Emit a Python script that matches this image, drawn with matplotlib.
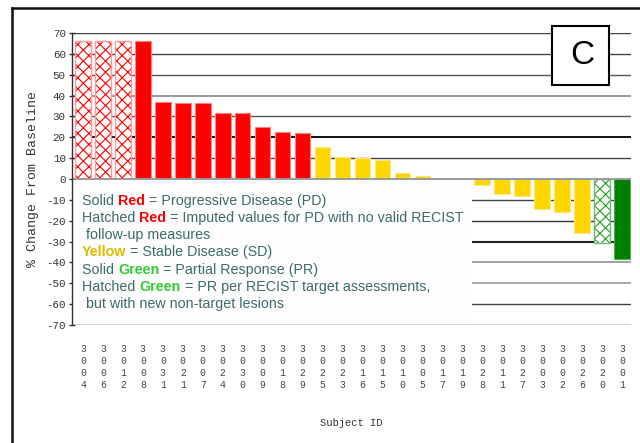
import matplotlib
matplotlib.use("Agg")
import matplotlib.pyplot as plt
from matplotlib.patches import Rectangle
from matplotlib.lines import Line2D

subject_ids = ["3004", "3006", "3012", "3008", "3031", "3021", "3007", "3024",
               "3030", "3009", "3018", "3029", "3025", "3023", "3016", "3015",
               "3010", "3005", "3017", "3019", "3028", "3011", "3027", "3003",
               "3002", "3026", "3020", "3001"]
pct_change = [66, 66, 66, 66, 37, 36.5, 36.5, 31.5, 31.5, 25, 22.5, 22,
              15.3, 10.7, 10.2, 9.1, 2.7, 1.6, -1, -2, -2.7, -7.4, -8, -14.2,
              -16, -26, -30.8, -38.5]
response = ["PD_imp"] * 3 + ["PD"] * 9 + ["SD"] * 14 + ["PR_new", "PR"]
yticks = [70, 60, 50, 40, 30, 20, 10, 0, -10, -20, -30, -40, -50, -60, -70]

fill = {"PD_imp": "white", "PD": "#ff0000", "SD": "#ffd700",
        "PR_new": "white", "PR": "#008000"}
hatchc = {"PD_imp": "#ff0000", "PR_new": "#22a022"}
edge = {"PD_imp": "#ff9a9a", "PD": "#ff8080", "SD": "#ffe680",
        "PR_new": "#66bb66", "PR": "#55aa55"}

plt.rcParams["hatch.linewidth"] = 0.8
fig = plt.figure(figsize=(6.4, 4.43), dpi=100)
ax = fig.add_axes([72 / 640, 1 - 325 / 443, (631 - 72) / 640, (325 - 33) / 443])

x = list(range(len(subject_ids)))
for i, (v, r) in enumerate(zip(pct_change, response)):
    if r in hatchc:
        ax.bar(i, v, width=0.78, color="white", edgecolor=hatchc[r],
               hatch="xxx", linewidth=0, zorder=3)
        ax.bar(i, v, width=0.78, color="none", edgecolor=edge[r],
               linewidth=1.0, zorder=3)
    else:
        ax.bar(i, v, width=0.78, color=fill[r], edgecolor=edge[r],
               linewidth=0.8, zorder=3)

# gridlines (styles mimic the reference rendering)
gstyle = {70: ("#444444", 1.0), 60: ("#444444", 1.0), 50: ("#555555", 1.0),
          40: ("#9a9a9a", 1.4), 30: ("#555555", 1.0), 20: ("#111111", 1.4),
          10: ("#444444", 1.0), 0: ("#9a9a9a", 1.4), -10: ("#444444", 1.0),
          -20: ("#333333", 1.0), -30: ("#222222", 1.5), -40: ("#9a9a9a", 1.3),
          -50: ("#9a9a9a", 1.2), -60: ("#444444", 1.0), -70: ("#222222", 1.0)}
for yv in yticks:
    c, lw = gstyle[yv]
    ax.axhline(yv, color=c, lw=lw, zorder=6 if yv == 0 else 1)

ax.set_xlim(-0.55, 27.45)
ax.set_ylim(-70, 70)
for s in ["top", "right", "bottom"]:
    ax.spines[s].set_visible(False)
ax.spines["left"].set_color("#333333")
ax.spines["left"].set_linewidth(1.0)
ax.spines["left"].set_zorder(6)

mono = "Liberation Mono"
ax.set_yticks(yticks)
ax.set_yticklabels([str(v) for v in yticks], family=mono, fontsize=7.8,
                   color="#333333")
ax.tick_params(axis="y", direction="inout", length=5, width=1, color="#333333", pad=2)
ax.set_xticks(x)
ax.set_xticklabels(["\n".join(s) for s in subject_ids], family=mono,
                   fontsize=7, color="#444444", linespacing=1.25)
ax.tick_params(axis="x", length=0, pad=14)
ax.set_ylabel("% Change From Baseline", family=mono, fontsize=9.5,
              color="#333333", labelpad=5)
ax.set_xlabel("Subject ID", family=mono, fontsize=7.6, color="#333333",
              labelpad=20)

# legend box covering the lower-left area
ax.add_patch(Rectangle((-0.5, -69.3), 20.0, 68.8, facecolor="#fdfdfd",
                       edgecolor="none", zorder=5))

teal = "#3d6b6b"
red = "#ff0000"
gold = "#e3bb00"
green = "#33cc33"
lines = [
    [("Solid ", teal, "normal"), ("Red", red, "bold"), (" = Progressive Disease (PD)", teal, "normal")],
    [("Hatched ", teal, "normal"), ("Red", red, "bold"), (" = Imputed values for PD with no valid RECIST", teal, "normal")],
    [(" follow-up measures", teal, "normal")],
    [("Yellow", gold, "bold"), (" = Stable Disease (SD)", teal, "normal")],
    [("Solid ", teal, "normal"), ("Green", green, "bold"), (" = Partial Response (PR)", teal, "normal")],
    [("Hatched ", teal, "normal"), ("Green", green, "bold"), (" = PR per RECIST target assessments,", teal, "normal")],
    [(" but with new non-target lesions", teal, "normal")],
]
fs = 10.25
y0 = 1 - 200.5 / 443
dy = 17.3 / 443
for k, segs in enumerate(lines):
    prev = None
    for txt, col, wt in segs:
        if prev is None:
            prev = fig.text(82 / 640, y0 - k * dy, txt, color=col, fontweight=wt,
                            family="Liberation Sans", fontsize=fs, va="center",
                            ha="left", zorder=7)
        else:
            prev = ax.annotate(txt, xy=(1, 0), xycoords=prev, xytext=(0, 0),
                               textcoords="offset points", va="bottom", ha="left",
                               color=col, fontweight=wt, family="Liberation Sans",
                               fontsize=fs, zorder=7, annotation_clip=False)

# "C" panel box
fig.patches.append(Rectangle((552 / 640, 1 - 85 / 443), 57 / 640, 59 / 443,
                             transform=fig.transFigure, facecolor="white",
                             edgecolor="black", linewidth=1.5, zorder=8))
fig.text(582 / 640, 1 - 56 / 443, "C", family="Liberation Sans", fontsize=24,
         ha="center", va="center", color="black", zorder=9)

# outer frame
fig.add_artist(Line2D([12 / 640, 12 / 640], [0, 1 - 8 / 443], color="#111111",
                      lw=1.8, transform=fig.transFigure))
fig.add_artist(Line2D([12 / 640, 1], [1 - 8 / 443, 1 - 8 / 443], color="#111111",
                      lw=1.8, transform=fig.transFigure))

fig.savefig("out.png", dpi=100)
